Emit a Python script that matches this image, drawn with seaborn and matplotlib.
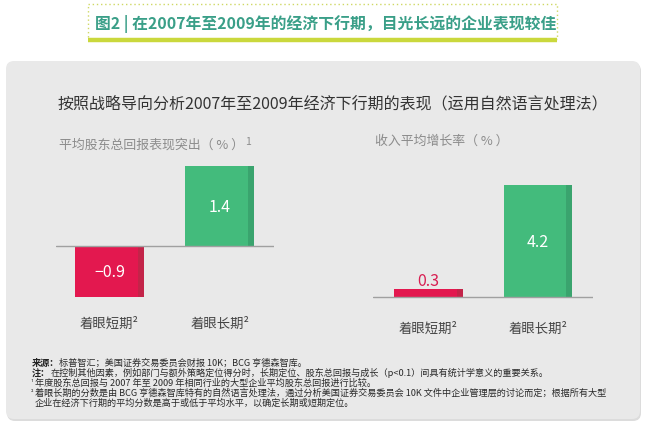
import matplotlib
matplotlib.use("Agg")
import matplotlib.pyplot as plt
import seaborn as sns
from matplotlib.patches import FancyBboxPatch, Rectangle

sns.set_theme(style="white")
plt.rcParams['font.family'] = ['Noto Sans CJK SC', 'DejaVu Sans']
plt.rcParams['axes.unicode_minus'] = True

# ---------------- data ----------------
categories = ['着眼短期²', '着眼长期²']
tsr_values = [-0.9, 1.4]          # 平均股东总回报表现突出（%）
growth_values = [0.3, 4.2]        # 收入平均增长率（%）
bar_colors = ['#e3184f', '#43bb7c']
shade_colors = ['#c32449', '#3aa46e']

banner_title = '图2 | 在2007年至2009年的经济下行期，目光长远的企业表现较佳'
main_title = '按照战略导向分析2007年至2009年经济下行期的表现（运用自然语言处理法）'
left_sub = '平均股东总回报表现突出（ % ）'
right_sub = '收入平均增长率（ % ）'
notes = [
    ('来源：', '标普智汇；美国证券交易委员会财报 10K；BCG 亨德森智库。'),
    ('注：', '在控制其他因素，例如部门与额外策略定位得分时，长期定位、股东总回报与成长（p<0.1）间具有统计学意义的重要关系。'),
    ('¹ ', '年度股东总回报与 2007 年至 2009 年相同行业的大型企业平均股东总回报进行比较。'),
    ('² ', '着眼长期的分数是由 BCG 亨德森智库特有的自然语言处理法，通过分析美国证券交易委员会 10K 文件中企业管理层的讨论而定；根据所有大型'),
    ('   ', '企业在经济下行期的平均分数是高于或低于平均水平，以确定长期或短期定位。'),
]

W, H = 646, 427
fig = plt.figure(figsize=(W / 100, H / 100), dpi=100)
fig.patch.set_facecolor('white')

# background / decoration axes in pixel coordinates
bg = fig.add_axes([0, 0, 1, 1], zorder=0)
bg.set_xlim(0, W)
bg.set_ylim(H, 0)
bg.axis('off')

# banner
bg.add_patch(Rectangle((88, 5), 469, 35, fill=False, edgecolor='#cfd865',
                       linestyle=(0, (1, 2)), linewidth=1.0))
bg.plot([88, 557], [40.5, 40.5], color='#cad83c', linewidth=3.2, solid_capstyle='butt')
bg.text(95, 24, banner_title, fontsize=11.4, fontweight='bold', color='#3a9f88',
        va='center', ha='left')

# panel
bg.add_patch(FancyBboxPatch((7, 64), 634, 358, boxstyle='round,pad=0,rounding_size=8',
                            facecolor='#dcdcdc', edgecolor='none'))
bg.add_patch(FancyBboxPatch((6, 62), 634, 358, boxstyle='round,pad=0,rounding_size=8',
                            facecolor='#e9e9e9', edgecolor='none'))

bg.text(58, 104, main_title, fontsize=11.5, color='#333333', va='center', ha='left')
t_left = bg.text(59, 145, left_sub, fontsize=9.3, color='#8c8c8c', va='center', ha='left')
bg.annotate('1', xy=(1, 0.75), xycoords=t_left, xytext=(0.5, 0), textcoords='offset points',
            fontsize=7.5, color='#8c8c8c', va='center', ha='left')
bg.text(375, 141, right_sub, fontsize=9.3, color='#8c8c8c', va='center', ha='left')

# footnotes
ys = [363, 373, 383, 393, 403]
for (head, body), y in zip(notes, ys):
    if head.strip() in ('来源：', '注：'):
        th = bg.text(32, y, head, fontsize=6.6, fontweight='bold', color='#222222',
                     va='center', ha='left')
    else:
        th = bg.text(31, y, head, fontsize=4.5, color='#222222', va='center', ha='left')
    bg.annotate(body, xy=(1, 0.5), xycoords=th, fontsize=6.6, color='#2a2a2a',
                va='center', ha='left')


def draw(ax, values, ylim, xlim, pad, label_mode):
    sns.barplot(x=categories, y=values, hue=categories, palette=bar_colors,
                width=0.625, saturation=1, legend=False, ax=ax, linewidth=0)
    ax.set_xlim(*xlim)
    ax.set_ylim(*ylim)
    ax.axhline(0, color='#a0a0a0', linewidth=1.0, zorder=3)
    ax.patch.set_alpha(0)
    for s in ax.spines.values():
        s.set_visible(False)
    ax.set_yticks([])
    ax.set_xlabel('')
    ax.set_ylabel('')
    ax.tick_params(axis='x', length=0, pad=pad, labelsize=9.6, labelcolor='#444444')
    for i, p in enumerate(list(ax.patches)):
        x0, w = p.get_x(), p.get_width()
        y0, h = p.get_y(), p.get_height()
        ax.add_patch(Rectangle((x0 + w * 0.91, y0), w * 0.09, h, linewidth=0,
                               facecolor=shade_colors[i], edgecolor='none', zorder=p.get_zorder()))
    for i, v in enumerate(values):
        txt = f'{v:.1f}'.replace('-', '\u2212')
        if label_mode[i] == 'in':
            ax.text(i, v / 2, txt, ha='center', va='center', color='white', fontsize=11.5)
        else:
            ax.annotate(txt, xy=(i, v), xytext=(0, 0), textcoords='offset points',
                        ha='center', va='bottom', color='#d81f52', fontsize=11.5)


def fx(px):
    return px / W


def fy(py):
    return 1 - py / H


axl = fig.add_axes([fx(56), fy(304), fx(274) - fx(56), fy(155.8) - fy(304)], zorder=2)
draw(axl, tsr_values, (-1.0, 1.6), (-0.484, 1.489), 9, ['in', 'in'])

axr = fig.add_axes([fx(373), fy(309.2), fx(593) - fx(373), fy(169.9) - fy(309.2)], zorder=2)
draw(axr, growth_values, (-0.4, 4.8), (-0.507, 1.502), 9, ['out', 'in'])

fig.savefig('out.png', dpi=100, facecolor='white')
